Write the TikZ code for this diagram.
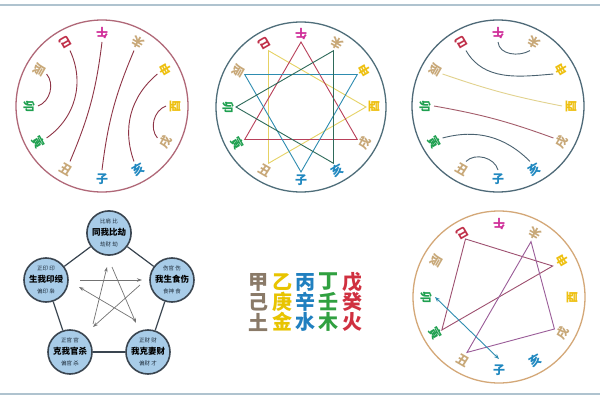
\documentclass[tikz,border=0pt]{standalone}
\usepackage{fontspec}
\newfontfamily\cjk{Noto Sans CJK SC}
\usetikzlibrary{arrows.meta}
\definecolor{fireM}{HTML}{D0309A}
\definecolor{fireR}{HTML}{C0304A}
\definecolor{earth}{HTML}{C8A878}
\definecolor{metal}{HTML}{EEC010}
\definecolor{water}{HTML}{2088C0}
\definecolor{wood}{HTML}{1FA050}
\definecolor{ringA}{HTML}{B06878}
\definecolor{ringB}{HTML}{4F6E7A}
\definecolor{ringC}{HTML}{4F6A78}
\definecolor{ringD}{HTML}{D4A878}
\definecolor{maroon}{HTML}{8E3446}
\definecolor{slate}{HTML}{4A6270}
\definecolor{paleY}{HTML}{E2D28E}
\definecolor{mauve}{HTML}{9E5070}
\definecolor{purp}{HTML}{9A5C98}
\definecolor{triR}{HTML}{B8405A}
\definecolor{triB}{HTML}{2E8CB0}
\definecolor{triG}{HTML}{2E6A5A}
\definecolor{triY}{HTML}{E6D264}
\definecolor{pfill}{HTML}{A8CCE8}
\definecolor{pline}{HTML}{3A4550}
\definecolor{ptext}{HTML}{1E2C3A}
\definecolor{frame}{HTML}{AFC3CF}
\definecolor{ganE}{HTML}{8A7A68}
\definecolor{ganM}{HTML}{E8C400}
\definecolor{ganW}{HTML}{2080C0}
\definecolor{ganWd}{HTML}{30A040}
\definecolor{ganF}{HTML}{D03040}
\tikzset{
  blabel/.style={font=\cjk\bfseries\fontsize{12}{12}\selectfont,inner sep=0pt},
  ring/.style={line width=1.3pt},
  pc/.style={circle,minimum size=44pt,inner sep=0pt,fill=pfill,draw=pline,line width=1.6pt,align=center,text=ptext},
  pedge/.style={draw=pline,line width=1.2pt},
  star/.style={draw=gray!90!black,line width=0.7pt,-{Stealth[length=5pt,width=3.5pt]}},
  gan/.style={font=\cjk\bfseries\fontsize{20}{20}\selectfont,inner sep=0pt},
  hline/.style={line width=0.9pt}
}
\newcommand\branchset[1]{%
  \foreach \a/\t/\c/\n in {90/午/fireM/wu,60/未/earth/wei,30/申/metal/shen,0/酉/metal/you,-30/戌/earth/xu,-60/亥/water/hai,-90/子/water/zi,-120/丑/earth/chou,-150/寅/wood/yin,180/卯/wood/mao,150/辰/earth/chen,120/巳/fireR/si}{%
    \node[blabel,text=\c,rotate=\a+90] (#1\n) at (\a:73) {\t};
    \coordinate (#1\n e) at (\a:64);
  }%
}
\newcommand\smalltxt{\cjk\fontsize{5.5}{6.5}\selectfont}
\newcommand\bigtxt{\cjk\bfseries\fontsize{8.5}{10}\selectfont\color{black}}
\begin{document}
\begin{tikzpicture}[x=1pt,y=1pt]
\useasboundingbox (0,0) rectangle (600,400);
\fill[white] (0,0) rectangle (600,400);
\draw[frame,line width=1.8pt] (0,395) -- (600,395);
\draw[frame,line width=1.8pt] (0,6) -- (600,6);

% circle 1: six harms
\begin{scope}[shift={(102,294)}]
  \draw[ring,ringA] (0,0) circle (86);
  \branchset{a}
  \draw[hline,maroon] (achene) to[bend left=55] (amaoe);
  \draw[hline,maroon] (asie) to[bend left=40] (ayine);
  \draw[hline,maroon] (awue) to[bend left=8] (achoue);
  \draw[hline,maroon] (aweie) to[bend right=8] (azie);
  \draw[hline,maroon] (ashene) to[bend right=35] (ahaie);
  \draw[hline,maroon] (ayoue) to[bend right=55] (axue);
\end{scope}

% circle 2: triangles
\begin{scope}[shift={(301,293)}]
  \draw[ring,ringB] (0,0) circle (85);
  \branchset{b}
  \foreach \a in {90,-150,-30} \coordinate (bT\a) at (\a:65);
  \foreach \a in {-90,150,30} \coordinate (bB\a) at (\a:65);
  \foreach \a in {180,60,-60} \coordinate (bG\a) at (\a:65);
  \foreach \a in {120,0,-120} \coordinate (bY\a) at (\a:65);
  \draw[hline,triY] (bY120) -- (bY0) -- (bY-120) -- cycle;
  \draw[hline,triR] (bT90) -- (bT-150) -- (bT-30) -- cycle;
  \draw[hline,triB] (bB-90) -- (bB150) -- (bB30) -- cycle;
  \draw[hline,triG] (bG180) -- (bG60) -- (bG-60) -- cycle;
\end{scope}

% circle 3: six combinations
\begin{scope}[shift={(498,294)}]
  \draw[ring,ringC] (0,0) circle (86);
  \branchset{c}
  \draw[hline,slate] (cwue) to[out=-85,in=-150] (cweie);
  \draw[hline,slate] (csie) to[out=-60,in=185] (cshene);
  \draw[hline,paleY] (cchene) to[bend right=4] (cyoue);
  \draw[hline,maroon!80] (cmaoe) to[bend left=5] (cxue);
  \draw[hline,slate] (cyine) to[bend left=30] (chaie);
  \draw[hline,slate] (cchoue) to[bend left=60] (czie);
\end{scope}

% circle 4: punishments
\begin{scope}[shift={(499,103)}]
  \draw[ring,ringD] (0,0) circle (86);
  \branchset{d}
  \coordinate (dS) at (120:67);
  \coordinate (dSh) at (30:62);
  \coordinate (dY) at (-150:66);
  \coordinate (dW) at (60:64);
  \coordinate (dX) at (-30:64);
  \coordinate (dC) at (-120:64);
  \draw[hline,mauve] (dS) -- (dSh) -- (dY) -- cycle;
  \draw[hline,purp] (dW) -- (dX) -- (dC) -- cycle;
  \coordinate (dM) at (180:64);
  \coordinate (dZ) at (-90:62);
  \draw[hline,triB,{Stealth[length=5pt,width=4pt]}-{Stealth[length=5pt,width=4pt]}] (dM) -- (dZ);
\end{scope}

% pentagon of ten gods
\node[pc] (pT) at (109,167) {\smalltxt 比肩\ 比\\[-0.5pt]\bigtxt 同我比劫\\[-0.5pt]\smalltxt 劫财\ 劫};
\node[pc] (pR) at (172,120) {\smalltxt 伤官\ 伤\\[-0.5pt]\bigtxt 我生食伤\\[-0.5pt]\smalltxt 食神\ 食};
\node[pc] (pBR) at (148,48) {\smalltxt 正财\ 财\\[-0.5pt]\bigtxt 我克妻财\\[-0.5pt]\smalltxt 偏财\ 才};
\node[pc] (pBL) at (70,48) {\smalltxt 正官\ 官\\[-0.5pt]\bigtxt 克我官杀\\[-0.5pt]\smalltxt 偏官\ 杀};
\node[pc] (pL) at (46,120) {\smalltxt 正印\ 印\\[-0.5pt]\bigtxt 生我印绶\\[-0.5pt]\smalltxt 偏印\ 枭};
\draw[pedge] (pT) -- (pR);
\draw[pedge] (pR) -- (pBR);
\draw[pedge] (pBR) -- (pBL);
\draw[pedge] (pBL) -- (pL);
\draw[pedge] (pL) -- (pT);
\coordinate (s1a) at (80,120); \coordinate (s1b) at (142,120);
\coordinate (s2a) at (140,115); \coordinate (s2b) at (93,73);
\coordinate (s3a) at (93,76); \coordinate (s3b) at (107,133);
\coordinate (s4a) at (112,133); \coordinate (s4b) at (136,77);
\coordinate (s5a) at (135,80); \coordinate (s5b) at (79,113);
\draw[star] (s1a) -- (s1b);
\draw[star] (s2a) -- (s2b);
\draw[star] (s3a) -- (s3b);
\draw[star] (s4a) -- (s4b);
\draw[star] (s5a) -- (s5b);

% heavenly stems
\foreach \t/\c/\x/\y/\n in {甲/ganE/258/118/g1,乙/ganM/282/118/g2,丙/ganW/305/118/g3,丁/ganWd/328/118/g4,戊/ganF/352/118/g5,
  己/ganE/258/98/g6,庚/ganM/282/98/g7,辛/ganW/305/98/g8,壬/ganWd/328/98/g9,癸/ganF/352/98/g10,
  土/ganE/258/78/g11,金/ganM/282/78/g12,水/ganW/305/78/g13,木/ganWd/328/78/g14,火/ganF/352/78/g15}
  \node[gan,text=\c] (\n) at (\x,\y) {\t};
\end{tikzpicture}
\end{document}
